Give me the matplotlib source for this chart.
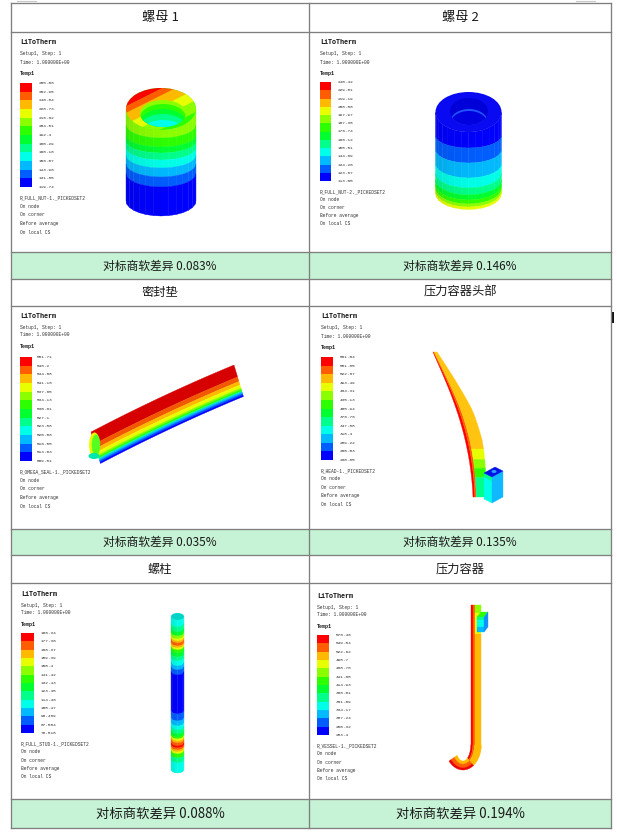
import numpy as np
import matplotlib.pyplot as plt
from matplotlib.patches import Polygon, Ellipse, Rectangle
from matplotlib.colors import to_rgb

plt.rcParams['font.family'] = ['Noto Sans CJK SC', 'DejaVu Sans']

# Abaqus-style 12 band contour palette, low -> high
palette = ['#0000FF', '#005DFF', '#00B9FF', '#00FFE8', '#00FF8B', '#00FF2E',
           '#2EFF00', '#8BFF00', '#E8FF00', '#FFB900', '#FF5D00', '#FF0000']

titles = ['螺母 1', '螺母 2', '密封垫', '压力容器头部', '螺柱', '压力容器']
diff_prefix = '对标商软差异'
diffs = ['0.083%', '0.146%', '0.035%', '0.135%', '0.088%', '0.194%']
set_names = ['R_FULL_NUT-1._PICKEDSET2', 'R_FULL_NUT-2._PICKEDSET2',
             'R_OMEGA_SEAL-1._PICKEDSET2', 'R_HEAD-1._PICKEDSET2',
             'R_FULL_STUD-1._PICKEDSET2', 'R_VESSEL-1._PICKEDSET2']
info_lines = ['On node', 'On corner', 'Before average', 'On local CS']

# colour bar labels (top -> bottom)
temp_nut1 = ['265.06', '252.95', '240.84', '228.73', '216.62', '204.51', '192.4',
             '180.29', '168.18', '156.07', '143.96', '131.85', '119.74']
temp_nut2 = ['240.42', '229.81', '219.19', '208.58', '197.97', '187.35', '176.74',
             '166.12', '155.51', '144.89', '134.28', '123.67', '113.05']
temp_seal = ['551.71', '548.2', '544.68', '541.16', '537.65', '534.13', '530.61',
             '527.1', '523.58', '520.06', '516.55', '513.03', '509.51']
temp_head = ['581.04', '551.85', '522.67', '493.49', '464.31', '435.13', '405.94',
             '376.76', '347.58', '318.4', '289.22', '260.03', '230.85']
temp_stud = ['186.34', '177.36', '168.37', '159.39', '150.4', '141.42', '132.43',
             '123.45', '114.46', '105.47', '96.489', '87.504', '78.518']
temp_vessel = ['576.46', '549.54', '522.62', '495.7', '468.78', '441.85', '414.93',
               '388.01', '361.09', '334.17', '307.24', '280.32', '253.4']
temps = [temp_nut1, temp_nut2, temp_seal, temp_head, temp_stud, temp_vessel]

# ---- layout (pixels) ----
W, H = 617, 832
col_x = [(11, 309), (309, 611)]
head_rows = [(3, 32), (279, 306), (555, 583)]
foot_rows = [(252, 279), (529, 555), (799, 828)]
title_size = [9.5, 8.8, 8.8]
foot_size = [8.5, 8.5, 9.6]
# legend block: text x, title y, bar width, bar top, bar bottom, label x, line step
legend_pos = [(20, 43, 12, 83, 187, 39, 8.7),
              (320, 43, 11, 82, 181, 338, 8.1),
              (20, 316, 12, 357, 461, 37, 8.7),
              (321, 317, 12, 357, 460, 340, 8.5),
              (21, 594, 13, 633, 733, 41, 8.3),
              (317, 596, 12, 635, 735, 336, 8.3)]

fig = plt.figure(figsize=(W / 100, H / 100), dpi=100)
ax = fig.add_axes([0, 0, 1, 1])
ax.set_xlim(0, W)
ax.set_ylim(H, 0)
ax.axis('off')


def shade(c, f):
    return tuple(np.clip(np.array(to_rgb(c)) * f, 0, 1))


def poly(pts, color, z=3):
    p = Polygon(pts, closed=True, facecolor=color, edgecolor=color, lw=0.25, zorder=z)
    ax.add_patch(p)
    return p


def draw_legend(pos, labels, setname):
    x, yt, bw, top, bot, labx, step = pos
    mono = 'Liberation Mono'
    ax.text(x, yt, 'LiToTherm', fontsize=4.9, fontweight='bold', family=mono,
            va='center', color='#111111')
    ax.text(x, yt + 11, 'Setup1, Step: 1', fontsize=3.3, family=mono, va='center', color='#333333')
    ax.text(x, yt + 19, 'Time: 1.000000E+00', fontsize=3.3, family=mono, va='center', color='#333333')
    ax.text(x, yt + 30.5, 'Temp1', fontsize=3.6, fontweight='bold', family=mono,
            va='center', color='#111111')
    h = (bot - top) / 12
    for i in range(12):
        ax.add_patch(Rectangle((x, top + i * h), bw, h, facecolor=palette[11 - i],
                               edgecolor='none', zorder=2))
    for i, lab in enumerate(labels):
        ax.text(labx, top + i * h, lab, fontsize=3.2, family=mono, va='center', color='#333333')
    y = bot + 10.5
    for line in [setname] + info_lines:
        ax.text(x, y, line, fontsize=3.3, family=mono, va='center', color='#333333')
        y += step


def cyl_body(cx, rx, ry_knots, bands, nfacet=14):
    ky, kr = ry_knots
    ts = np.linspace(0, np.pi, nfacet + 1)
    for y0, y1, ci in bands:
        r0, r1 = np.interp(y0, ky, kr), np.interp(y1, ky, kr)
        for k in range(nfacet):
            ta, tb = ts[k], ts[k + 1]
            f = 0.93 + 0.07 * np.cos((ta + tb) / 2 - 0.3 * np.pi)
            pts = [(cx + rx * np.cos(t), y0 - r0 + r0 * np.sin(t)) for t in (ta, tb)]
            pts += [(cx + rx * np.cos(t), y1 - r1 + r1 * np.sin(t)) for t in (tb, ta)]
            poly(pts, shade(palette[ci], f))


def clipped_ellipses(clip, cx, cy, rx, ry, shifts):
    for dy, col in shifts:
        e = Ellipse((cx, cy + dy), 2 * rx, 2 * ry, facecolor=col, edgecolor='none', zorder=4)
        ax.add_patch(e)
        e.set_clip_path(clip)


# ---- table ----
for (y0, y1) in foot_rows:
    ax.add_patch(Rectangle((11, y0), 600, y1 - y0, facecolor='#C6F2D5', edgecolor='none', zorder=0))
line_kw = dict(color='#7F7F7F', lw=0.95, zorder=6)
for y in [3, 32, 252, 279, 306, 529, 555, 583, 799, 828]:
    ax.plot([11, 611], [y, y], **line_kw)
for x in [11, 309, 611]:
    ax.plot([x, x], [3, 828], **line_kw)
ax.plot([17, 36], [0.5, 0.5], color='#C8C8C8', lw=0.8)
ax.plot([576, 595], [0.5, 0.5], color='#C8C8C8', lw=0.8)
ax.add_patch(Rectangle((611.5, 312), 2.5, 11, facecolor='#111111', edgecolor='none'))

for k in range(6):
    r, c = divmod(k, 2)
    xc = sum(col_x[c]) / 2
    ax.text(xc, sum(head_rows[r]) / 2, titles[k], fontsize=title_size[r],
            ha='center', va='center', color='#1A1A1A')
    ax.text(xc, sum(foot_rows[r]) / 2 + 0.5, diff_prefix + ' ' + diffs[k], fontsize=foot_size[r],
            ha='center', va='center', color='#1A1A1A')
    draw_legend(legend_pos[k], temps[k], set_names[k])

# ---- 螺母 1 : hot top, cool bottom ----
nut1_bands = [(130, 138, 7), (138, 147, 6), (147, 153, 5), (153, 160, 4), (160, 168, 3),
              (168, 177, 2), (177, 187, 1), (187, 216, 0)]
cyl_body(161, 35, ([130, 140, 216], [21, 11, 15]), nut1_bands)
top1 = Ellipse((161, 109), 70, 42, facecolor=palette[6], edgecolor='none', zorder=4)
ax.add_patch(top1)
u = np.array([0.447, 0.894])
v = np.array([-u[1], u[0]])
o = np.array([140, 86])
for d0, d1, ci in [(-30, 12, 11), (12, 18, 10), (18, 28, 9), (28, 38, 8), (38, 48, 7)]:
    pts = [o + u * d0 - v * 80, o + u * d0 + v * 80, o + u * d1 + v * 80, o + u * d1 - v * 80]
    p = poly(pts, palette[ci], z=4)
    p.set_clip_path(top1)
hole1 = Ellipse((163, 113.5), 46, 27, facecolor=palette[7], edgecolor='none', zorder=4)
ax.add_patch(hole1)
clipped_ellipses(hole1, 163, 113.5, 23, 13.5,
                 [(4, palette[6]), (9, palette[5]), (14, palette[4]), (20, palette[3])])

# ---- 螺母 2 : cool top, warm bottom ----
nut2_bands = [(132, 148, 0), (148, 163, 1), (163, 178, 2), (178, 188, 3), (188, 195, 4),
              (195, 200, 5), (200, 204, 6), (204, 207, 7), (207, 209.5, 8)]
cyl_body(468.5, 33, ([132, 142, 209.5], [20, 12, 16]), nut2_bands)
top2 = Ellipse((468.5, 112), 66, 40, facecolor='#0A0AF2', edgecolor='none', zorder=4)
ax.add_patch(top2)
hole2 = Ellipse((469, 111.5), 38, 27, facecolor='#0000D8', edgecolor='none', zorder=4)
ax.add_patch(hole2)
clipped_ellipses(hole2, 469, 111.5, 19, 13.5, [(11, '#1F55FF'), (13, '#0000E0')])

# ---- 密封垫 : tube lying diagonally ----
seal_bands = [(0, 12, 11, 0.84), (12, 16.5, 10, 0.95), (16.5, 20, 9, 1), (20, 23, 8, 1),
              (23, 24.5, 7, 1), (24.5, 26, 6, 1), (26, 27, 4, 1), (27, 28.5, 2, 1),
              (28.5, 30, 1, 1), (30, 31.5, 0, 1)]
t = np.linspace(0, 1, 50)
bx = 91 + 143 * t
by = 432 - 67 * t - 2 * 4 * t * (1 - t)
off = np.array([0.3, 1.0])
for d0, d1, ci, f in seal_bands:
    pts = np.vstack([np.c_[bx + off[0] * d0, by + off[1] * d0],
                     np.c_[bx + off[0] * d1, by + off[1] * d1][::-1]])
    poly(pts, shade(palette[ci], f))
ax.add_patch(Ellipse((94.5, 445), 11, 25, facecolor=palette[8], edgecolor='none', zorder=4))
ax.add_patch(Ellipse((96, 445), 8.5, 21, facecolor='#55FF22', edgecolor='none', zorder=4))
ax.add_patch(Ellipse((94, 456), 11, 6, facecolor='#00E8B0', edgecolor='none', zorder=4))

# ---- 压力容器头部 : curved shell with bolt block ----
P = np.array([(433, 352), (447, 385), (470, 430), (473, 497)], float)


def bez(tt):
    tt = np.asarray(tt)[:, None]
    return ((1 - tt) ** 3 * P[0] + 3 * (1 - tt) ** 2 * tt * P[1]
            + 3 * (1 - tt) * tt ** 2 * P[2] + tt ** 3 * P[3])


def head_width(tt):
    return np.interp(tt, [0, 0.3, 0.5, 0.7, 0.85, 1], [4, 11, 16, 17, 15, 12])


face = '#FFC410'
head_strips = [(0, 0.15, palette[11]), (0.15, 0.27, palette[10])]
head_face = [(0, 0.74, face), (0.74, 0.8, palette[8]), (0.8, 0.85, palette[7]),
             (0.85, 0.9, palette[6]), (0.9, 1.0, palette[4])]
tt = np.linspace(0, 1, 60)
L = bez(tt)
w = head_width(tt)
for a0, a1, col in head_strips:
    pts = np.vstack([np.c_[L[:, 0] + a0 * w, L[:, 1]], np.c_[L[:, 0] + a1 * w, L[:, 1]][::-1]])
    poly(pts, col)
for t0, t1, col in head_face:
    ts = np.linspace(t0, t1, 15)
    Ls = bez(ts)
    ws = head_width(ts)
    pts = np.vstack([np.c_[Ls[:, 0] + 0.27 * ws, Ls[:, 1]], np.c_[Ls[:, 0] + ws, Ls[:, 1]][::-1]])
    poly(pts, col)
poly([(484, 473), (492, 477), (492, 503), (484, 499)], palette[3], z=5)
poly([(484, 473), (492, 477), (492, 481), (484, 477)], palette[4], z=5)
poly([(492, 477), (503, 471), (503, 497), (492, 503)], '#10B8FF', z=5)
poly([(484, 473), (495, 467), (503, 471), (492, 477)], '#0010E8', z=5)
ax.add_patch(Ellipse((494, 471.5), 5, 3, facecolor='#2AA0FF', edgecolor='none', zorder=6))

# ---- 螺柱 : vertical stud ----
stud_bands = [(620, 627, 3), (627, 632, 4), (632, 636, 5), (636, 639, 7), (639, 641, 8),
              (641, 643, 9), (643, 646, 10), (646, 648, 9), (648, 650, 8), (650, 653, 6),
              (653, 657, 5), (657, 661, 4), (661, 666, 3), (666, 670, 2), (670, 675, 1),
              (675, 714, 0), (714, 721, 1), (721, 726, 2), (726, 730, 3), (730, 734, 4),
              (734, 737, 5), (737, 739, 6), (739, 741, 8), (741, 743, 9), (743, 746, 10),
              (746, 748, 11), (748, 750, 10), (750, 752, 9), (752, 754, 8), (754, 758, 6),
              (758, 763, 4), (763, 773, 3)]
cyl_body(177.5, 6.5, ([620, 773], [3.5, 3.5]), stud_bands, nfacet=8)
ax.add_patch(Ellipse((177.5, 616.5), 13, 7, facecolor='#00D4C6', edgecolor='none', zorder=4))

# ---- 压力容器 : vertical wall with hook ----
vessel_strips = [(470.7, 473, palette[11]), (473, 474.7, palette[10])]
for x0, x1, col in vessel_strips:
    poly([(x0, 605), (x1, 605), (x1, 745), (x0, 745)], col)
for y0, y1, ci in [(605, 613, 7), (613, 634, 8), (634, 745, 9)]:
    poly([(474.7, y0), (481.3, y0), (481.3, y1), (474.7, y1)], palette[ci])
hook_cx, hook_cy = 463, 745
rx_in, rx_out, ry_in, ry_out = 7.7, 18.3, 16, 25
hook_a = [(0, 0.2, 11), (0.2, 0.35, 10), (0.35, 1, 9)]
hook_b = [(0, 0.35, 9), (0.35, 0.75, 10), (0.75, 1, 11)]
for th0, th1, bands in [(0, 55, hook_a), (55, 140, hook_b)]:
    th = np.radians(np.linspace(th0, th1, 30))
    for f0, f1, ci in bands:
        rxa, rya = rx_in + f0 * (rx_out - rx_in), ry_in + f0 * (ry_out - ry_in)
        rxb, ryb = rx_in + f1 * (rx_out - rx_in), ry_in + f1 * (ry_out - ry_in)
        pts = np.vstack([np.c_[hook_cx + rxa * np.cos(th), hook_cy + rya * np.sin(th)],
                         np.c_[hook_cx + rxb * np.cos(th), hook_cy + ryb * np.sin(th)][::-1]])
        poly(pts, shade(palette[ci], 0.92 if ci == 11 else 1.0))
poly([(477, 617), (481, 612), (488, 612), (484, 617)], palette[6], z=5)
poly([(477, 617), (484, 617), (484, 620), (477, 620)], palette[4], z=5)
poly([(477, 620), (484, 620), (484, 627), (477, 627)], palette[3], z=5)
poly([(477, 627), (484, 627), (484, 632), (477, 632)], palette[2], z=5)
poly([(484, 617), (488, 612), (488, 627), (484, 632)], '#1090FF', z=5)

fig.savefig('out.png', dpi=100, facecolor='white')
